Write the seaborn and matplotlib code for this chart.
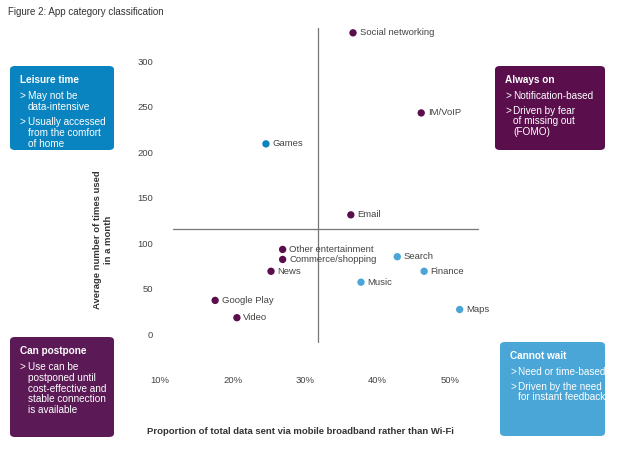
import matplotlib
matplotlib.use("Agg")
import matplotlib.pyplot as plt
from matplotlib.patches import FancyBboxPatch
import seaborn as sns
import pandas as pd

# data
apps = ["Social networking", "IM/VoIP", "Games", "Email", "Other entertainment",
        "Commerce/shopping", "News", "Search", "Finance", "Music",
        "Google Play", "Video", "Maps"]
share = [36.6, 46.0, 24.6, 36.3, 26.9, 26.9, 25.3, 42.7, 46.4, 37.7, 17.6, 20.6, 51.3]
uses = [331, 243, 209, 131, 93, 82, 69, 85, 69, 57, 37, 18, 27]
group = ["on", "on", "leisure", "on", "on", "on", "on", "wait", "wait", "wait",
         "on", "on", "wait"]
x_ticks = [10, 20, 30, 40, 50]
y_ticks = [0, 50, 100, 150, 200, 250, 300]

PURPLE = "#5a0f4c"
BLUE = "#0a84c0"
LIGHT = "#4aa6d6"
palette = {"on": PURPLE, "leisure": BLUE, "wait": LIGHT}

df = pd.DataFrame({"app": apps, "share": share, "uses": uses, "group": group})

sns.set_style("white")
plt.rcParams["font.family"] = ["Liberation Sans", "DejaVu Sans"]

fig = plt.figure(figsize=(6.2, 4.49), dpi=100)
ax = fig.add_axes([160 / 620, 1 - 345 / 449, 320 / 620, 320 / 449])

sns.scatterplot(data=df, x="share", y="uses", hue="group", palette=palette,
                s=28, edgecolor="none", legend=False, ax=ax)
for _, r in df.iterrows():
    ax.text(r["share"] + 0.9, r["uses"], r["app"], fontsize=6.8, color="#444444",
            va="center", ha="left")

# quadrant lines
ax.plot([31.8, 31.8], [-9, 336], color="#777777", lw=0.9, zorder=0)
ax.plot([11.8, 53.8], [115, 115], color="#777777", lw=0.9, zorder=0)

ax.set_xlim(10.4, 54.1)
ax.set_ylim(-12, 339.6)
ax.set_xticks(x_ticks)
ax.set_xticklabels([f"{v}%" for v in x_ticks])
ax.set_yticks(y_ticks)
ax.tick_params(axis="x", pad=22, labelsize=6.8, colors="#444444", length=0)
ax.tick_params(axis="y", pad=5, labelsize=6.8, colors="#444444", length=0)
for s in ax.spines.values():
    s.set_visible(False)
ax.set_xlabel("")
ax.set_ylabel("")

fig.text(8 / 620, 1 - 12 / 449, "Figure 2: App category classification",
         fontsize=7, color="#333333", va="center")
fig.text(103 / 620, 1 - 240 / 449, "Average number of times used\nin a month",
         rotation=90, fontsize=6.8, fontweight="bold", color="#333333",
         ha="center", va="center", multialignment="center")
fig.text(300 / 620, 1 - 432 / 449,
         "Proportion of total data sent via mobile broadband rather than Wi-Fi",
         fontsize=6.8, fontweight="bold", color="#333333", ha="center", va="center")

boxes = [
    (10, 66, 104, 84, BLUE, "Leisure time",
     ["May not be\ndata-intensive", "Usually accessed\nfrom the comfort\nof home"]),
    (495, 66, 110, 84, PURPLE, "Always on",
     ["Notification-based", "Driven by fear\nof missing out\n(FOMO)"]),
    (10, 337, 104, 100, "#5b1a56", "Can postpone",
     ["Use can be\npostponed until\ncost-effective and\nstable connection\nis available"]),
    (500, 342, 105, 94, LIGHT, "Cannot wait",
     ["Need or time-based", "Driven by the need\nfor instant feedback"]),
]
for bx, by, bw, bh, col, head, bullets in boxes:
    fig.patches.append(FancyBboxPatch(
        (bx / 620, 1 - (by + bh) / 449), bw / 620, bh / 449,
        boxstyle="round,pad=0,rounding_size=0.008", transform=fig.transFigure,
        facecolor=col, edgecolor="none"))
    ty = by + 9
    fig.text((bx + 10) / 620, 1 - ty / 449, head, fontsize=7.2, fontweight="bold",
             color="white", va="top")
    ty += 16
    for b in bullets:
        lines = b.split("\n")
        fig.text((bx + 10) / 620, 1 - ty / 449, ">", fontsize=7.2, color="white", va="top")
        fig.text((bx + 18) / 620, 1 - ty / 449, b, fontsize=7.2, color="white",
                 va="top", linespacing=1.1)
        ty += 11.5 * len(lines) + 3

fig.savefig("out.png", dpi=100)
